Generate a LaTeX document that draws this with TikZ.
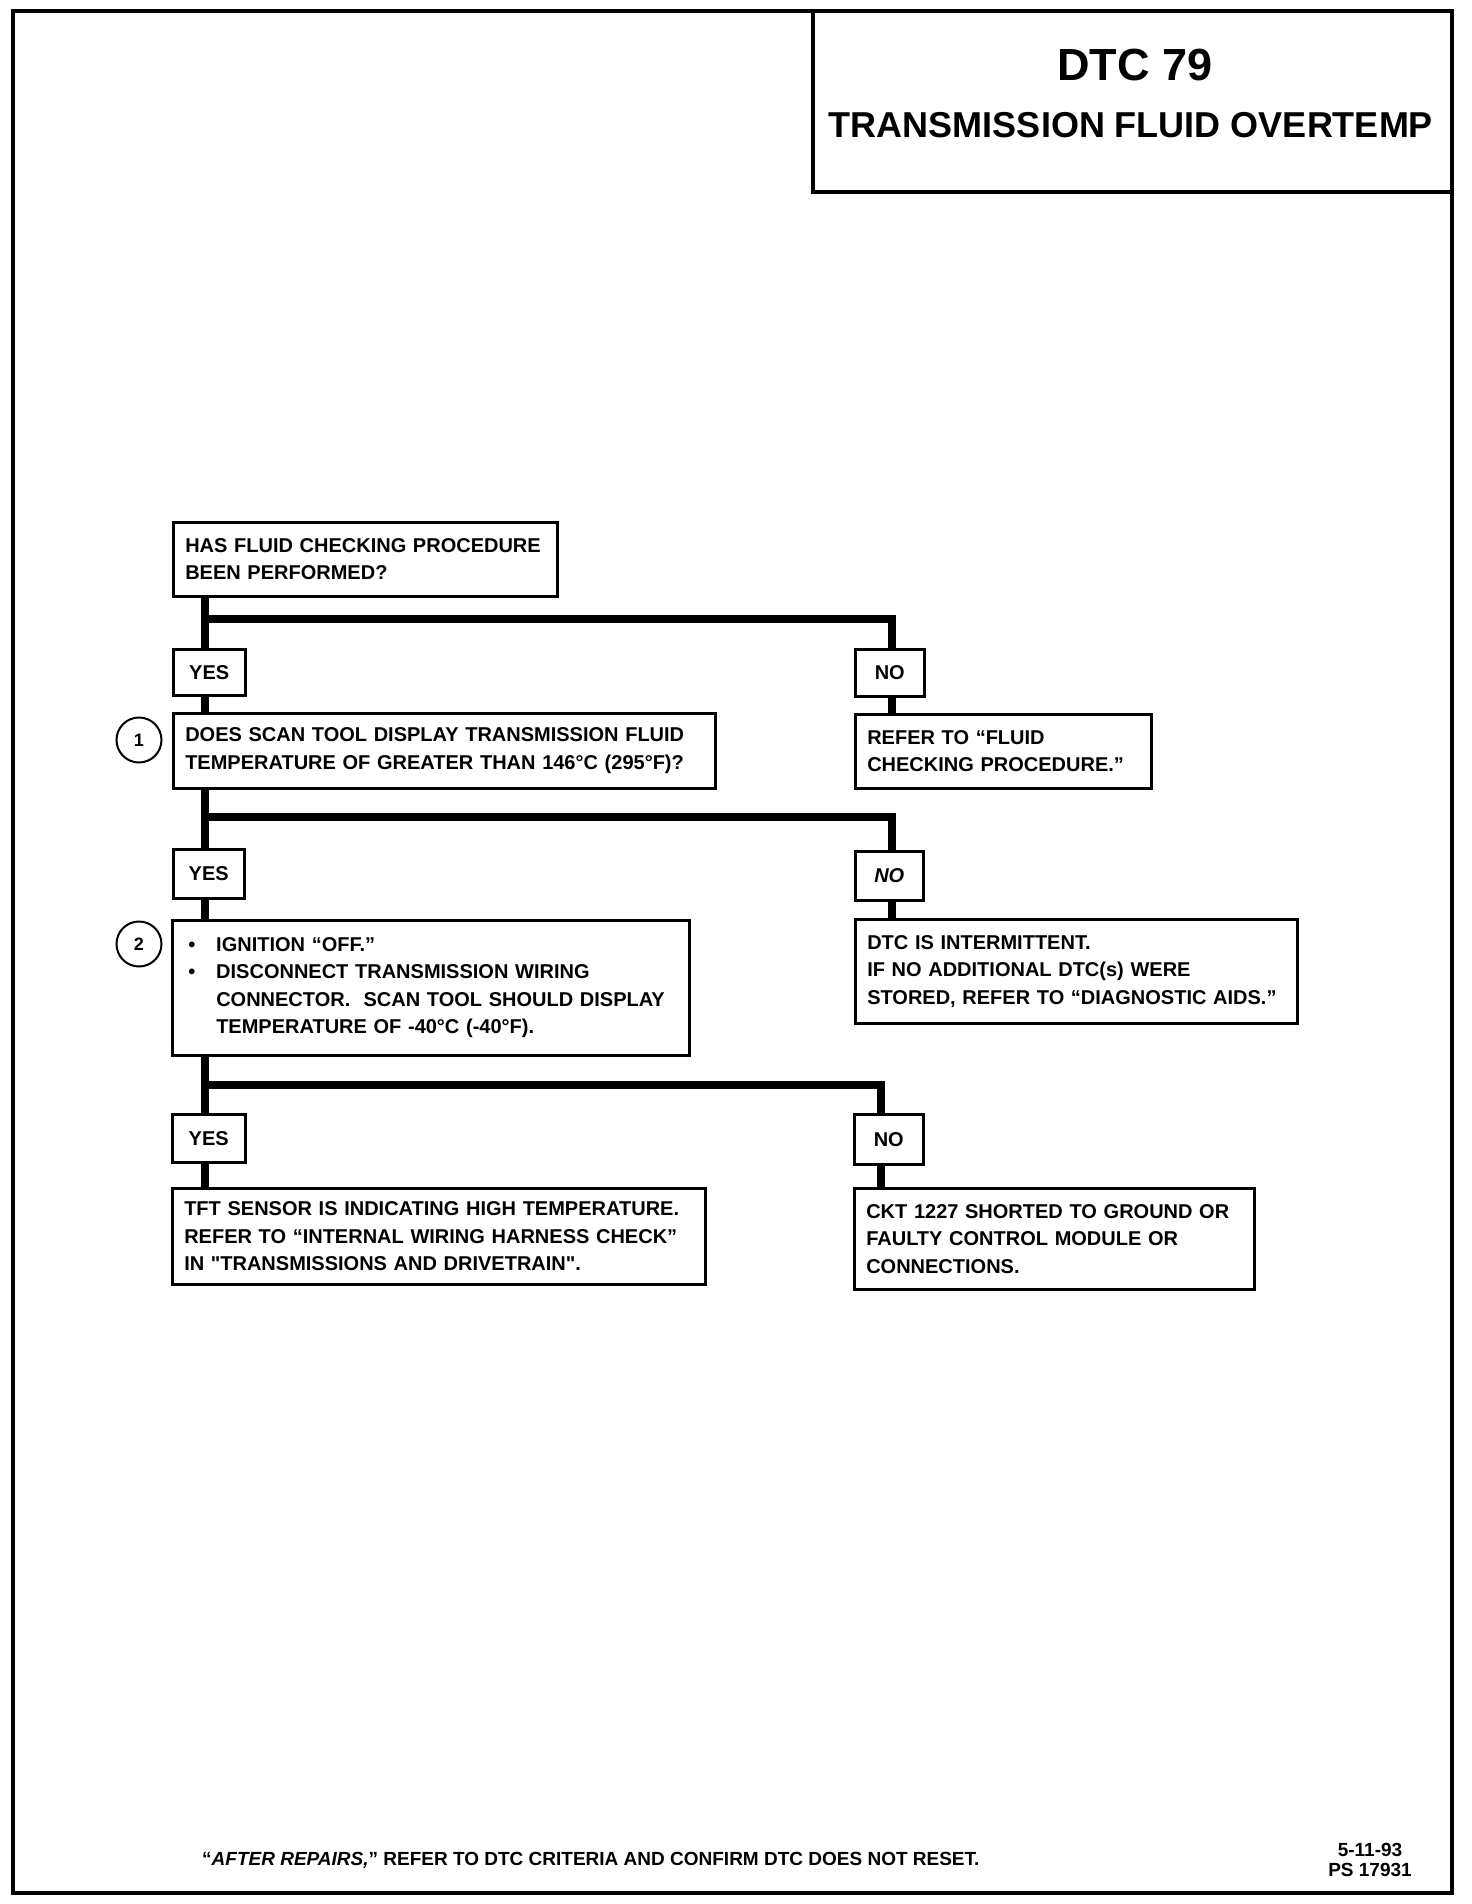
\documentclass[tikz,border=0pt]{standalone}
\usepackage{fontspec}
\setmainfont{Liberation Sans}[Ligatures=TeXOff]
\usetikzlibrary{backgrounds}
\begin{document}
\begin{tikzpicture}[x=1pt,y=-1pt,
  box/.style={draw, line width=2.5pt, fill=white, anchor=north west, inner xsep=12pt, inner ysep=0pt, align=left, font=\fontsize{20}{27.5}\selectfont\bfseries},
  lab/.style={draw, line width=2.5pt, fill=white, anchor=north west, inner sep=0pt, font=\fontsize{20}{24}\selectfont\bfseries},
  conn/.style={line width=8.5pt, line join=miter},
  num/.style={draw, circle, line width=2pt, minimum size=45pt, inner sep=0pt, font=\fontsize{18}{22}\selectfont\bfseries},
  frame/.style={line width=3.5pt, line join=miter}
]
\useasboundingbox (0,0) rectangle (1472,1904);
% frame and title box
\coordinate (tl) at (13,11);
\coordinate (br) at (1452,1893);
\draw[frame] (tl) rectangle (br);
\draw[frame] (813,11) -- (813,192) -- (1452,192);
\node[anchor=base, inner sep=0pt, font=\fontsize{45}{50}\selectfont\bfseries] (title) at (1135,80) {DTC 79};
\node[anchor=base, inner sep=0pt, font=\fontsize{36}{40}\selectfont\bfseries] (subtitle) at (1131,137) {TRANSMISSION FLUID OVERTEMP};

% boxes
\node[box, text width=360pt, minimum height=74pt] (A) at (172,521) {HAS FLUID CHECKING PROCEDURE\\BEEN PERFORMED?};
\node[lab, minimum width=72pt, minimum height=46pt] (Y1) at (172,648) {YES};
\node[lab, minimum width=69pt, minimum height=47pt] (N1) at (854,648) {NO};
\node[box, text width=518pt, minimum height=75pt] (Q1) at (172,712) {DOES SCAN TOOL DISPLAY TRANSMISSION FLUID\\TEMPERATURE OF GREATER THAN 146°C (295°F)?};
\node[box, text width=272pt, minimum height=74pt] (R1) at (854,713) {REFER TO “FLUID\\CHECKING PROCEDURE.”};
\node[num] (c1n) at (139,740) {1};

\node[lab, minimum width=71pt, minimum height=49pt] (Y2) at (172,848) {YES};
\node[lab, minimum width=68pt, minimum height=49pt] (N2) at (854,850) {\itshape NO};
\node[box, text width=493pt, minimum height=135pt] (Q2) at (171,919) {\hspace*{4pt}\makebox[28pt][l]{•}IGNITION “OFF.”\\
\hspace*{4pt}\makebox[28pt][l]{•}DISCONNECT TRANSMISSION WIRING\\
\hspace*{32pt}CONNECTOR.\ \ SCAN TOOL SHOULD DISPLAY\\
\hspace*{32pt}TEMPERATURE OF -40°C (-40°F).};
\node[box, text width=418pt, minimum height=104pt] (R2) at (854,918) {DTC IS INTERMITTENT.\\IF NO ADDITIONAL DTC(s) WERE\\STORED, REFER TO “DIAGNOSTIC AIDS.”};
\node[num] (c2n) at (139,944) {2};

\node[lab, minimum width=73pt, minimum height=48pt] (Y3) at (171,1113) {YES};
\node[lab, minimum width=69pt, minimum height=50pt] (N3) at (853,1113) {NO};
\node[box, text width=509pt, minimum height=96pt] (Q3) at (171,1187) {TFT SENSOR IS INDICATING HIGH TEMPERATURE.\\REFER TO “INTERNAL WIRING HARNESS CHECK”\\IN "TRANSMISSIONS AND DRIVETRAIN".};
\node[box, text width=376pt, minimum height=101pt] (R3) at (853,1187) {CKT 1227 SHORTED TO GROUND OR\\FAULTY CONTROL MODULE OR\\CONNECTIONS.};

% junction coordinates
\coordinate (j1) at (205,619);
\coordinate (k1) at (892,619);
\coordinate (j2) at (205,817);
\coordinate (k2) at (892,817);
\coordinate (j3) at (205,1085);
\coordinate (k3) at (881,1085);

\begin{scope}[on background layer]
\draw[conn] (A.south -| j1) -- (Q1.north -| j1);
\draw[conn] (j1) -- (k1) -- (k1 |- R1.north);
\draw[conn] (Q1.south -| j2) -- (Q2.north -| j2);
\draw[conn] (j2) -- (k2) -- (k2 |- R2.north);
\draw[conn] (Q2.south -| j3) -- (Q3.north -| j3);
\draw[conn] (j3) -- (k3) -- (k3 |- R3.north);
\end{scope}

% footer
\node[anchor=base west, inner sep=0pt, font=\fontsize{19}{22}\selectfont\bfseries] (foot) at (202,1865) {“\textit{AFTER REPAIRS,}” REFER TO DTC CRITERIA AND CONFIRM DTC DOES NOT RESET.};
\node[align=center, inner sep=0pt, font=\fontsize{19}{20}\selectfont\bfseries] (code) at (1370,1860) {5-11-93\\PS 17931};
\end{tikzpicture}
\end{document}
